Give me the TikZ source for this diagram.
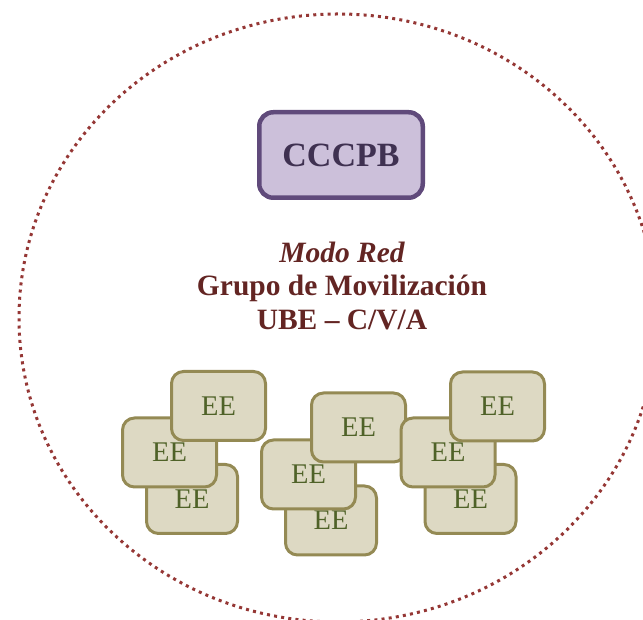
\documentclass[tikz,border=0pt]{standalone}
\usepackage{fontspec}
\setmainfont{Liberation Serif}
\usetikzlibrary{shapes.geometric}
\definecolor{ringred}{RGB}{149,55,53}
\definecolor{cfill}{RGB}{204,192,218}
\definecolor{cdraw}{RGB}{96,74,123}
\definecolor{ctext}{RGB}{63,49,81}
\definecolor{ttext}{RGB}{99,37,35}
\definecolor{efill}{RGB}{221,217,195}
\definecolor{edraw}{RGB}{148,138,84}
\definecolor{etext}{RGB}{79,98,40}
\newcommand{\eelabel}{\raisebox{-2pt}{EE}}
\begin{document}
\begin{tikzpicture}[x=1pt,y=1pt,
  eebox/.style={draw=edraw, fill=efill, line width=3pt, rounded corners=12pt,
    minimum width=94pt, minimum height=69pt, inner sep=0pt,
    text=etext, font=\fontsize{28.5}{32}\selectfont},
  eebot/.style={eebox, minimum width=91pt},
  cbox/.style={draw=cdraw, fill=cfill, line width=4.5pt, rounded corners=14pt,
    minimum width=163.5pt, minimum height=85.5pt, inner sep=0pt,
    text=ctext, font=\fontsize{34}{40}\selectfont\bfseries},
  title/.style={anchor=base, text=ttext, inner sep=0pt, font=\fontsize{29.5}{34}\selectfont\bfseries}
]
\useasboundingbox (0,0) rectangle (643,620);
\node[draw=ringred, line width=3pt, dash pattern=on 3pt off 4.2pt,
  ellipse, minimum width=638pt, minimum height=608pt, inner sep=0pt] (ring) at (338,302) {};
\node[cbox] (cccpb) at (341,465) {CCCPB};
\node[title] (modo) at (342,357) {\itshape Modo Red};
\node[title] (grupo) at (342,324) {Grupo de Movilización};
\node[title] (ube) at (342,290) {UBE – C/V/A};
% group A
\node[eebot] (a3) at (192,121) {\eelabel};
\node[eebox] (a2) at (169.5,167.5) {\eelabel};
\node[eebox] (a1) at (218.5,214) {\eelabel};
% group B
\node[eebot] (b3) at (331,99.5) {\eelabel};
\node[eebox] (b2) at (308.5,145.5) {\eelabel};
\node[eebox] (b1) at (358.5,192.5) {\eelabel};
% group C
\node[eebot] (c3) at (470.5,121) {\eelabel};
\node[eebox] (c2) at (448,167.5) {\eelabel};
\node[eebox] (c1) at (497.5,213.5) {\eelabel};
\end{tikzpicture}
\end{document}
